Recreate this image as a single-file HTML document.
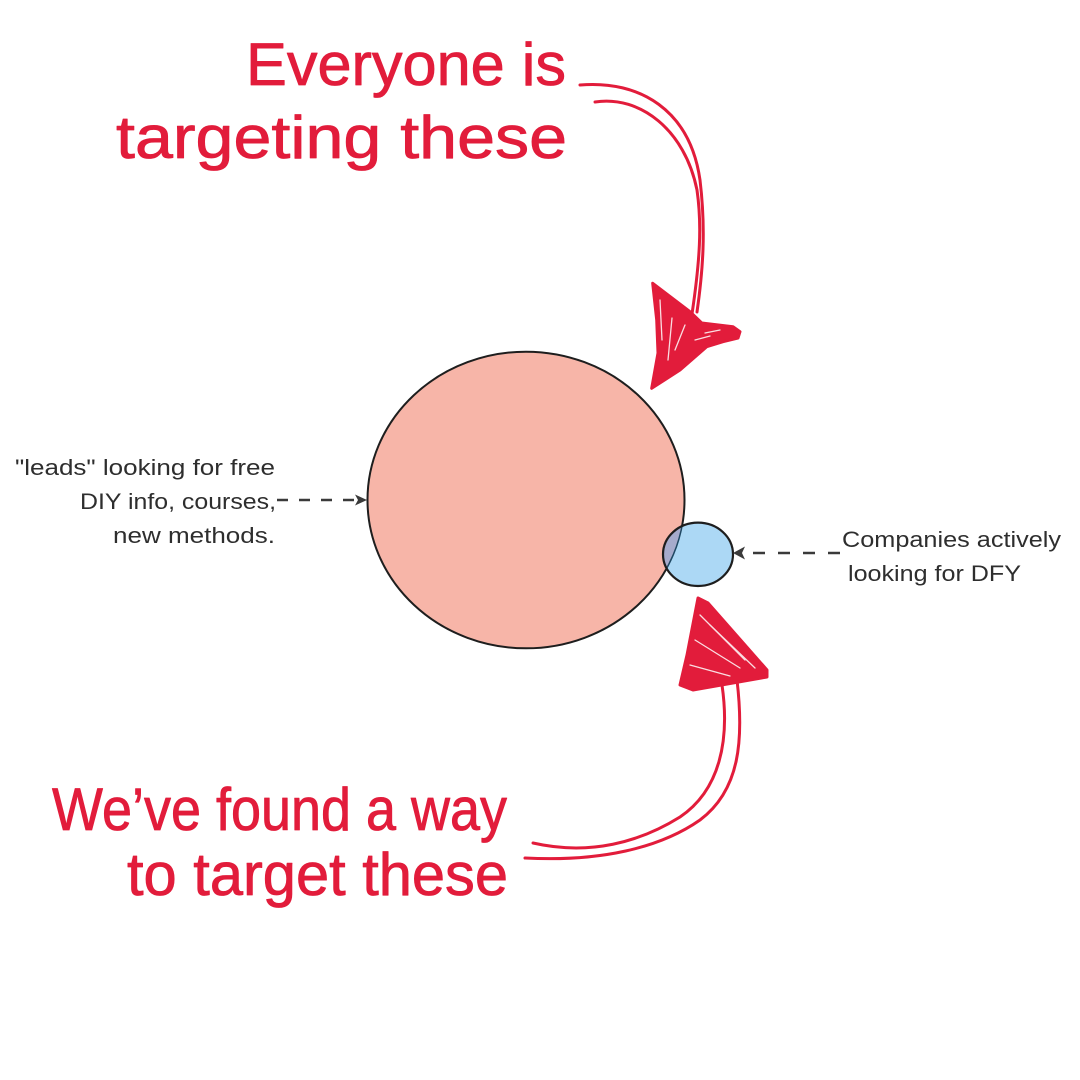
<!DOCTYPE html>
<html>
<head>
<meta charset="utf-8">
<style>
  html,body{margin:0;padding:0;background:#fff;}
  svg{display:block;}
</style>
</head>
<body>
<svg width="1080" height="1080" viewBox="0 0 1080 1080" xmlns="http://www.w3.org/2000/svg">
  <rect width="1080" height="1080" fill="#ffffff"/>
  <defs>
    <clipPath id="bigclip">
      <ellipse cx="526" cy="500" rx="158.5" ry="148.3"/>
    </clipPath>
    <clipPath id="smallclip">
      <ellipse cx="698" cy="554.3" rx="35" ry="31.7"/>
    </clipPath>
  </defs>

  <!-- Handwritten text -->
  <g fill="#e21c3b" stroke="#e21c3b" stroke-width="0.8" stroke-linejoin="round" font-family="'Liberation Sans', 'DejaVu Sans', sans-serif" font-size="60">
    <text x="246" y="85" textLength="320" lengthAdjust="spacingAndGlyphs">Everyone is</text>
    <text x="116" y="158" textLength="451" lengthAdjust="spacingAndGlyphs">targeting these</text>
    <text x="52" y="830" textLength="455" lengthAdjust="spacingAndGlyphs">We’ve found a way</text>
    <text x="127" y="895" textLength="381" lengthAdjust="spacingAndGlyphs">to target these</text>
  </g>

  <!-- Top arrow shafts -->
  <g fill="none" stroke="#e21c3b" stroke-width="3" stroke-linecap="round">
    <path d="M580,85 C640,80 690,110 700,180 C706,230 703,270 697,312"/>
    <path d="M595,102 C640,95 685,130 697,190 C702,225 700,260 692,314"/>
  </g>
  <!-- Top arrowhead -->
  <polygon fill="#e21c3b" stroke="#e21c3b" stroke-width="3" stroke-linejoin="round"
    points="652.7,283.3 690,311.7 701.7,323 733,326.7 740,331.7 738,338 723,341.7 706.7,346.7 680,370 651.7,388.3 658,353 656.7,320"/>
  <g stroke="#ffffff" stroke-width="1.3" stroke-linecap="round" opacity="0.85">
    <line x1="660" y1="300" x2="662" y2="340"/>
    <line x1="672" y1="318" x2="668" y2="360"/>
    <line x1="685" y1="325" x2="675" y2="350"/>
    <line x1="705" y1="333" x2="720" y2="330"/>
    <line x1="695" y1="340" x2="710" y2="336"/>
  </g>

  <!-- Big circle -->
  <ellipse cx="526" cy="500" rx="158.5" ry="148.3" fill="#f7b5a8" stroke="#1e1e1e" stroke-width="2"/>
  <!-- Small circle -->
  <ellipse cx="698" cy="554.3" rx="35" ry="31.7" fill="#acd8f5"/>
  <ellipse cx="698" cy="554.3" rx="35" ry="31.7" fill="#a6abcc" clip-path="url(#bigclip)"/>
  <ellipse cx="526" cy="500" rx="158.5" ry="148.3" fill="none" stroke="#1f4863" stroke-width="1.5" clip-path="url(#smallclip)"/>
  <ellipse cx="698" cy="554.3" rx="35" ry="31.7" fill="none" stroke="#1e1e1e" stroke-width="2.2"/>

  <!-- Dashed connectors -->
  <line x1="277" y1="500" x2="356" y2="500" stroke="#3a3a3a" stroke-width="2.5" stroke-dasharray="11 11"/>
  <polygon points="355,494.5 367,500 355,505.5 358,500" fill="#3a3a3a"/>
  <line x1="840" y1="553" x2="746" y2="553" stroke="#3a3a3a" stroke-width="2.5" stroke-dasharray="12 13"/>
  <polygon points="745,546.5 733,553 745,559.5 742,553" fill="#3a3a3a"/>

  <!-- Labels -->
  <g fill="#2e2e2e" font-family="'Liberation Sans', 'DejaVu Sans', sans-serif" font-size="22">
    <text x="15" y="475" textLength="260" lengthAdjust="spacingAndGlyphs">"leads" looking for free</text>
    <text x="80" y="509" textLength="196" lengthAdjust="spacingAndGlyphs">DIY info, courses,</text>
    <text x="113" y="543" textLength="162" lengthAdjust="spacingAndGlyphs">new methods.</text>
    <text x="842" y="547" textLength="219" lengthAdjust="spacingAndGlyphs">Companies actively</text>
    <text x="848" y="581" textLength="173" lengthAdjust="spacingAndGlyphs">looking for DFY</text>
  </g>

  <!-- Bottom arrow shafts -->
  <g fill="none" stroke="#e21c3b" stroke-width="3" stroke-linecap="round">
    <path d="M737,680 C744,740 740,790 700,820 C660,848 600,862 525,858"/>
    <path d="M722,685 C730,740 720,790 680,817 C640,842 590,856 533,843"/>
  </g>
  <!-- Bottom arrowhead -->
  <polygon fill="#e21c3b" stroke="#e21c3b" stroke-width="3" stroke-linejoin="round"
    points="698,598 708,603 767,670 767,677 693,690 680,685 687,655"/>
  <g stroke="#ffffff" stroke-width="1.3" stroke-linecap="round" opacity="0.85">
    <line x1="700" y1="615" x2="745" y2="660"/>
    <line x1="695" y1="640" x2="740" y2="668"/>
    <line x1="690" y1="665" x2="730" y2="676"/>
    <line x1="710" y1="625" x2="755" y2="668"/>
  </g>
</svg>
</body>
</html>
